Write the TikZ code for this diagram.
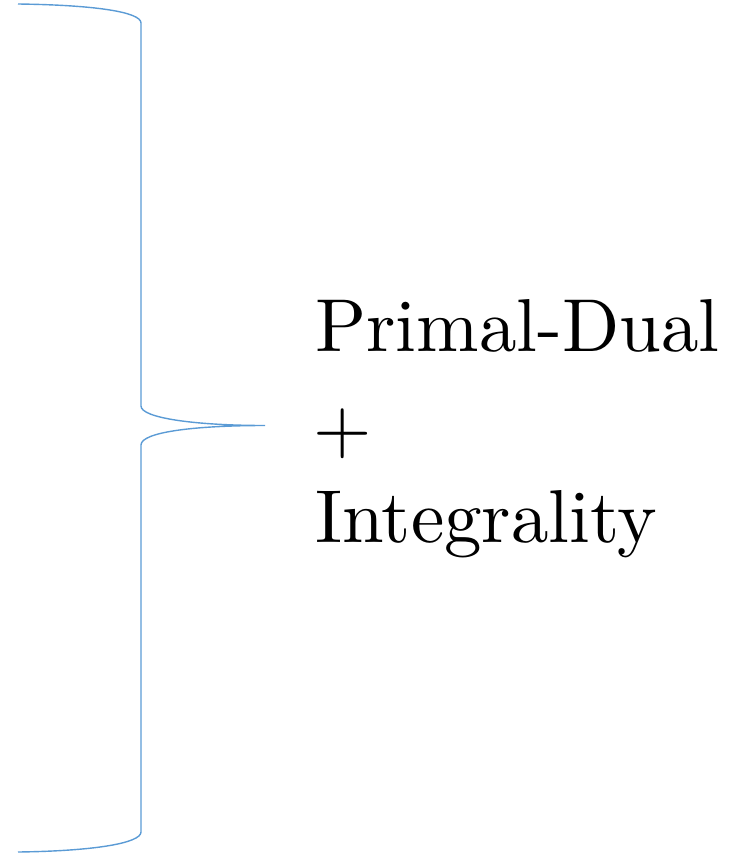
\documentclass[tikz,border=0pt]{standalone}
\usepackage{fontspec}
\setmainfont{lmroman10-regular}[Extension=.otf]
\definecolor{braceblue}{RGB}{91,155,213}
\begin{document}
\begin{tikzpicture}[x=1pt,y=-1pt,
  bracestyle/.style={draw=braceblue,line width=1.4pt},
  label/.style={anchor=base west,inner sep=0pt,font=\fontsize{75}{96}\selectfont}]
\useasboundingbox (0,0) rectangle (730,857);
\coordinate (top) at (18,4);
\coordinate (tip) at (265,425.5);
\coordinate (bot) at (18,852);
\draw[bracestyle] (top) .. controls (95,5) and (141,12) .. (141,23)
  -- (141,406) .. controls (141,418) and (195,425.5) .. (tip)
  .. controls (195,425.5) and (141,432) .. (141,445)
  -- (141,832) .. controls (141,843) and (95,851) .. (bot);
\node[label] (pd) at (315,351) {Primal-Dual};
\node[label] (plus) at (313,452) {+};
\node[label] (int) at (315,542) {Integrality};
\end{tikzpicture}
\end{document}
